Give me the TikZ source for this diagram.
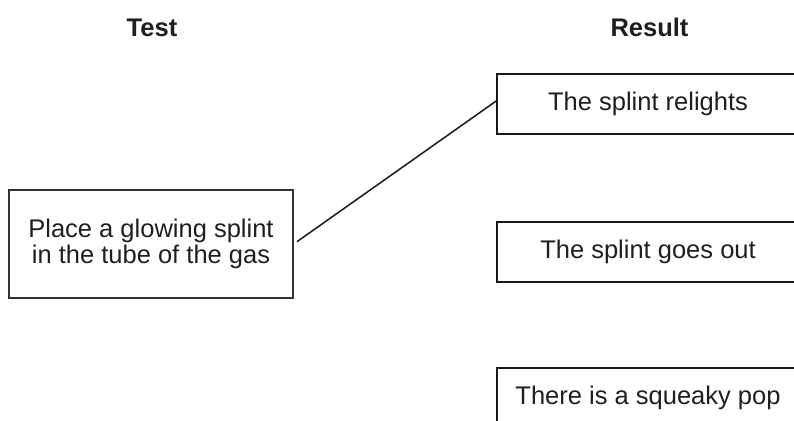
\documentclass[tikz,border=0pt]{standalone}
\usepackage{fontspec}
\setmainfont{Liberation Sans}
\begin{document}
\begin{tikzpicture}[x=1pt,y=-1pt,
  txt/.style={font=\fontsize{25.5pt}{26.7pt}\selectfont, text=black!88},
  head/.style={txt, font=\fontsize{25.5pt}{26.7pt}\selectfont\bfseries, anchor=base, inner sep=0pt},
  resbox/.style={txt, draw=black!90, line width=1.6pt, minimum width=302pt, minimum height=60pt,
    text height=18.5pt, text depth=5.5pt, inner sep=0pt, fill=white},
  testbox/.style={txt, draw=black!80, line width=1.4pt, minimum width=284pt, minimum height=108pt,
    align=center, inner sep=0pt},
  conn/.style={draw=black!90, line width=1.5pt}]
\clip (0,0) rectangle (794,420);
\fill[white] (0,0) rectangle (794,420);
\node[head] (thead) at (152,37) {Test};
\node[head] (rhead) at (649.5,37) {Result};
\node[testbox] (test) at (151,244) {Place a glowing splint\\in the tube of the gas};
\node[resbox] (r1) at (648,104) {The splint relights};
\node[resbox] (r2) at (648,252) {The splint goes out};
\node[resbox, line width=2.2pt] (r3) at (648,398) {There is a squeaky pop};
\draw[conn, shorten <=4pt] (test.east) -- ([yshift=3pt]r1.west);
\end{tikzpicture}
\end{document}
